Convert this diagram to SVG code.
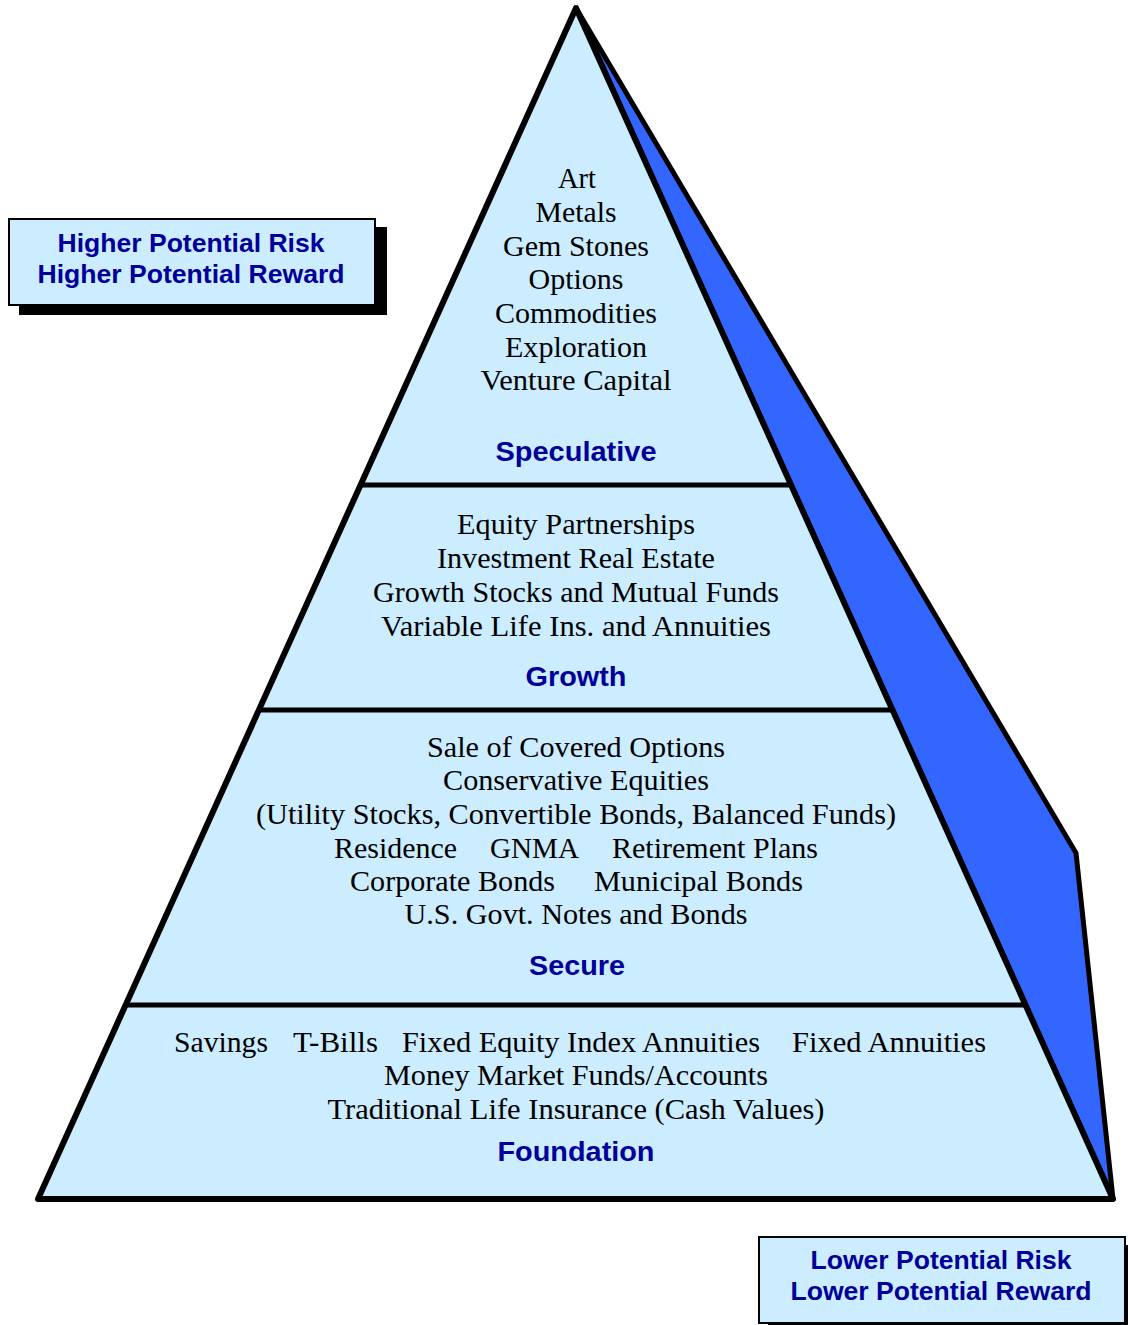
<svg xmlns="http://www.w3.org/2000/svg" width="1128" height="1325" viewBox="0 0 1128 1325">
<style>
.fill{fill:#CCECFF}
.item{font-family:"Liberation Serif","Times New Roman",serif;font-size:29px;fill:#000000}
.c{text-anchor:middle}
.tier{font-family:"Liberation Sans",Arial,sans-serif;font-weight:bold;font-size:28px;fill:#000099;text-anchor:middle}
.note{font-family:"Liberation Sans",Arial,sans-serif;font-weight:bold;font-size:25px;fill:#000099;text-anchor:middle}
.div{stroke:#000;stroke-width:5;fill:none}
</style>
<rect width="1128" height="1325" fill="#ffffff"/>
<g id="pyramid-body">
<polygon points="576,8 1076,853 1113,1199" fill="#3366FF" stroke="#000" stroke-width="5" stroke-linejoin="round"/>
<polygon class="fill" points="576,8 1113,1199 38,1199"/>
</g>
<g id="connectors">
<line class="div" x1="360" y1="485" x2="791" y2="485"/>
<line class="div" x1="259" y1="710" x2="892" y2="710"/>
<line class="div" x1="126" y1="1005" x2="1026" y2="1005"/>
<polygon points="576,8 1113,1199 38,1199" fill="none" stroke="#000" stroke-width="6" stroke-linejoin="round"/>
</g>
<g id="speculative">
<text class="item c" x="577" y="188" textLength="38" lengthAdjust="spacingAndGlyphs">Art</text>
<text class="item c" x="576" y="222" textLength="81" lengthAdjust="spacingAndGlyphs">Metals</text>
<text class="item c" x="576" y="256" textLength="146" lengthAdjust="spacingAndGlyphs">Gem Stones</text>
<text class="item c" x="576" y="289" textLength="95" lengthAdjust="spacingAndGlyphs">Options</text>
<text class="item c" x="576" y="323" textLength="162" lengthAdjust="spacingAndGlyphs">Commodities</text>
<text class="item c" x="576" y="357" textLength="142" lengthAdjust="spacingAndGlyphs">Exploration</text>
<text class="item c" x="576" y="390" textLength="191" lengthAdjust="spacingAndGlyphs">Venture Capital</text>
<text class="tier" x="576" y="461" textLength="161" lengthAdjust="spacingAndGlyphs">Speculative</text>
</g>
<g id="growth">
<text class="item c" x="576" y="534" textLength="238" lengthAdjust="spacingAndGlyphs">Equity Partnerships</text>
<text class="item c" x="576" y="568" textLength="278" lengthAdjust="spacingAndGlyphs">Investment Real Estate</text>
<text class="item c" x="576" y="602" textLength="406" lengthAdjust="spacingAndGlyphs">Growth Stocks and Mutual Funds</text>
<text class="item c" x="576" y="636" textLength="390" lengthAdjust="spacingAndGlyphs">Variable Life Ins. and Annuities</text>
<text class="tier" x="576" y="686" textLength="101" lengthAdjust="spacingAndGlyphs">Growth</text>
</g>
<g id="secure">
<text class="item c" x="576" y="757" textLength="298" lengthAdjust="spacingAndGlyphs">Sale of Covered Options</text>
<text class="item c" x="576" y="790" textLength="266" lengthAdjust="spacingAndGlyphs">Conservative Equities</text>
<text class="item c" x="576" y="824" textLength="640" lengthAdjust="spacingAndGlyphs">(Utility Stocks, Convertible Bonds, Balanced Funds)</text>
<text class="item" x="334" y="858" textLength="123" lengthAdjust="spacingAndGlyphs">Residence</text>
<text class="item" x="490" y="858" textLength="89" lengthAdjust="spacingAndGlyphs">GNMA</text>
<text class="item" x="612" y="858" textLength="206" lengthAdjust="spacingAndGlyphs">Retirement Plans</text>
<text class="item" x="350" y="891" textLength="205" lengthAdjust="spacingAndGlyphs">Corporate Bonds</text>
<text class="item" x="594" y="891" textLength="209" lengthAdjust="spacingAndGlyphs">Municipal Bonds</text>
<text class="item c" x="576" y="924" textLength="343" lengthAdjust="spacingAndGlyphs">U.S. Govt. Notes and Bonds</text>
<text class="tier" x="577" y="975" textLength="96" lengthAdjust="spacingAndGlyphs">Secure</text>
</g>
<g id="foundation">
<text class="item" x="174" y="1052" textLength="94" lengthAdjust="spacingAndGlyphs">Savings</text>
<text class="item" x="293" y="1052" textLength="85" lengthAdjust="spacingAndGlyphs">T-Bills</text>
<text class="item" x="402" y="1052" textLength="358" lengthAdjust="spacingAndGlyphs">Fixed Equity Index Annuities</text>
<text class="item" x="792" y="1052" textLength="194" lengthAdjust="spacingAndGlyphs">Fixed Annuities</text>
<text class="item c" x="576" y="1085" textLength="384" lengthAdjust="spacingAndGlyphs">Money Market Funds/Accounts</text>
<text class="item c" x="576" y="1119" textLength="497" lengthAdjust="spacingAndGlyphs">Traditional Life Insurance (Cash Values)</text>
<text class="tier" x="576" y="1161" textLength="157" lengthAdjust="spacingAndGlyphs">Foundation</text>
</g>
<g id="higher-note">
<rect x="19" y="227" width="368" height="88" fill="#000"/>
<rect class="fill" x="9" y="219" width="366" height="86" stroke="#000" stroke-width="2"/>
<text class="note" x="191" y="252" textLength="267" lengthAdjust="spacingAndGlyphs">Higher Potential Risk</text>
<text class="note" x="191" y="283" textLength="307" lengthAdjust="spacingAndGlyphs">Higher Potential Reward</text>
</g>
<g id="lower-note">
<rect x="768" y="1245" width="368" height="88" fill="#000"/>
<rect class="fill" x="759" y="1237" width="366" height="86" stroke="#000" stroke-width="2"/>
<text class="note" x="941" y="1269" textLength="261" lengthAdjust="spacingAndGlyphs">Lower Potential Risk</text>
<text class="note" x="941" y="1300" textLength="301" lengthAdjust="spacingAndGlyphs">Lower Potential Reward</text>
</g>
</svg>
